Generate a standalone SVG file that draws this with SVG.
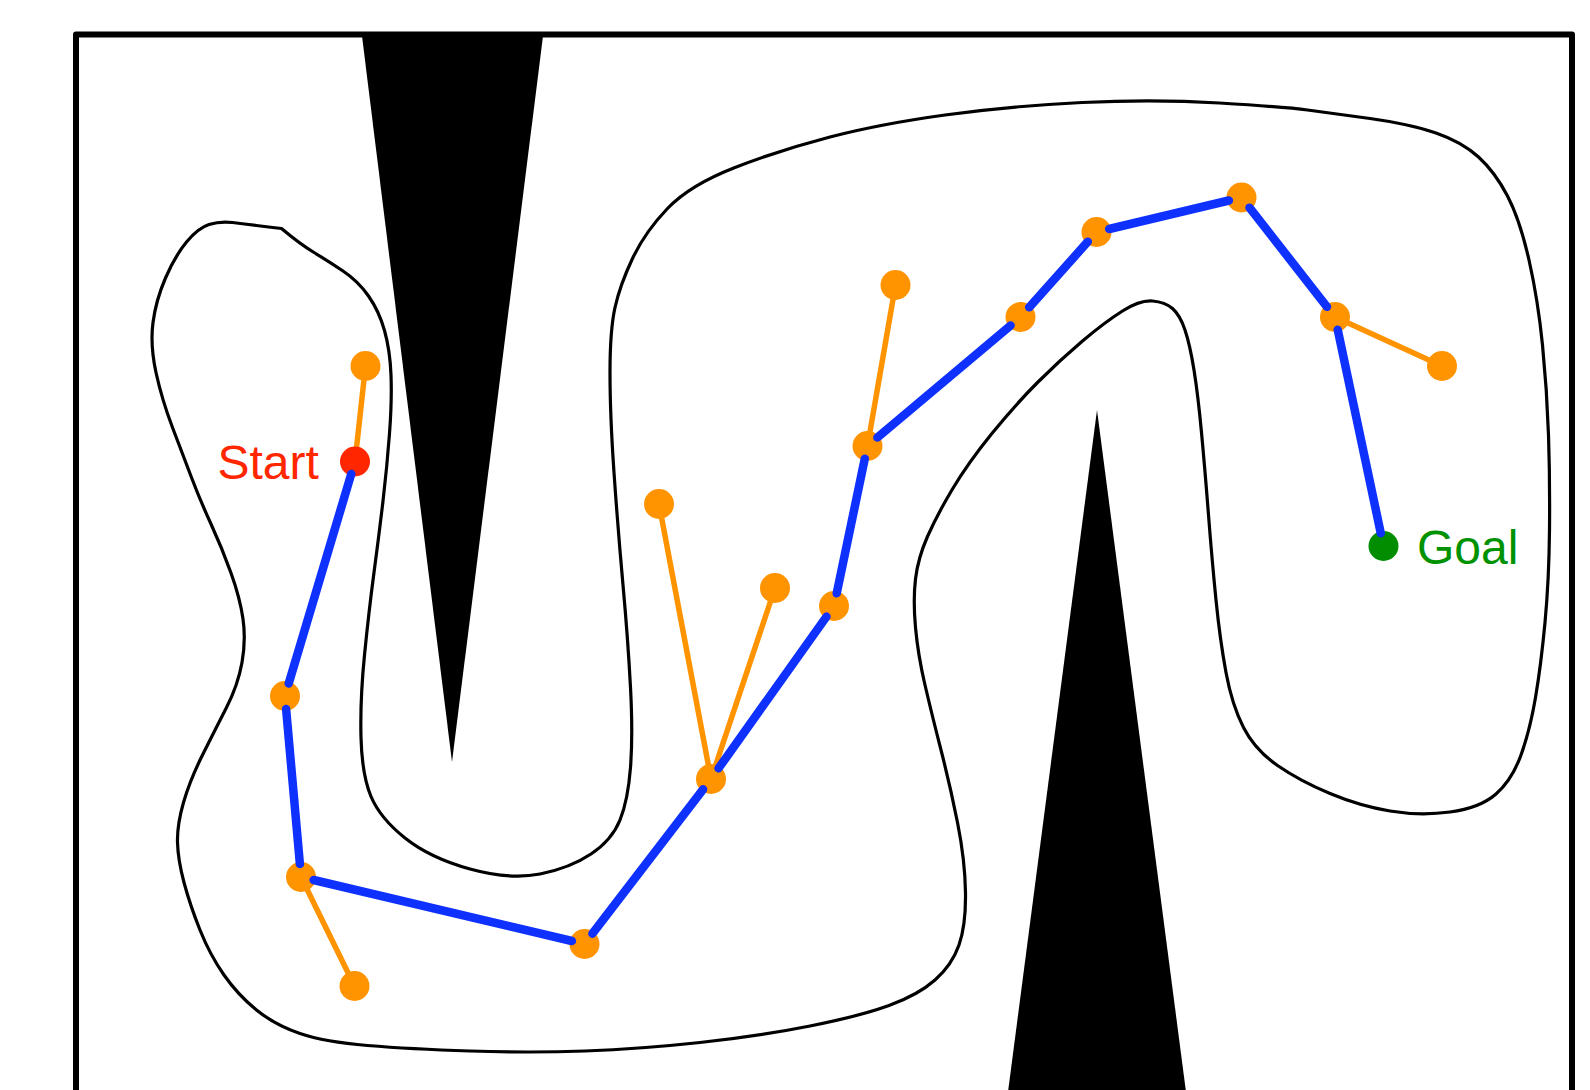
<svg xmlns="http://www.w3.org/2000/svg" width="1590" height="1090" viewBox="0 0 1590 1090">
  <style>
    .frame { fill: none; stroke: #000; stroke-width: 6; stroke-linejoin: round; }
    .obstacle { fill: #000; }
    .region { fill: none; stroke: #000; stroke-width: 3.2; stroke-linejoin: round; }
    .branch { stroke: #ff9300; stroke-width: 5.5; stroke-linecap: round; fill: none; }
    .path { stroke: #0f31ff; stroke-width: 8.5; stroke-linecap: round; fill: none; }
    .tree { fill: #ff9300; }
    .start { fill: #ff2600; }
    .goal { fill: #008e00; }
    .label { font-family: "Liberation Sans", Arial, sans-serif; font-size: 48px; }
  </style>

  <rect width="1590" height="1090" fill="#fff"/>

  <!-- workspace boundary -->
  <path class="frame" d="M76,1095 V34.5 H1572 V1095"/>

  <!-- wedge obstacles -->
  <polygon id="obstacle-top" class="obstacle" points="362,36 543,36 452,762"/>
  <polygon id="obstacle-bottom" class="obstacle" points="1097,410 1186,1092 1008,1092"/>

  <!-- free-space region outline -->
  <path id="free-region" class="region" d="M281.5,228.5
    Q300,244 314,252.5 Q328,261 343,271 Q358,281 368.5,296 Q379,311 384.5,330.5
    Q390,350 391,375 Q392,400 389.5,433.5 Q387,467 383,501 Q379,535 374,572.5
    Q369,610 364.5,655 Q360,700 361,737.5 Q362,775 371,796.5 Q380,818 405,838
    Q430,858 470,869 Q510,880 540,874 Q570,868 591,854 Q612,840 620,820
    Q628,800 630.5,767.5 Q633,735 630.5,687.5 Q628,640 623,585 Q618,530 614,472.5
    Q610,415 610,372.5 Q610,330 615,307.5 Q620,285 632.5,258.5 Q645,232 667.5,208.5
    Q690,185 735,167.5 Q780,150 830,137 Q880,124 945,115 Q1010,106 1082,102.5
    Q1154,99 1219.5,103 Q1285,107 1307.5,110 Q1330,113 1370,118.5 Q1410,124 1436,133
    Q1462,142 1478.5,157 Q1495,172 1507.5,196 Q1520,220 1529,260 Q1538,300 1542.5,345
    Q1547,390 1548.5,435 Q1550,480 1549.5,530 Q1549,580 1545,622.5 Q1541,665 1535.5,697.5
    Q1530,730 1521,755 Q1512,780 1496,794 Q1480,808 1450,812 Q1420,816 1390,811
    Q1360,806 1330,793.5 Q1300,781 1277.5,765.5 Q1255,750 1243.5,727.5 Q1232,705 1226,672.5
    Q1220,640 1216,600 Q1212,560 1208.5,515 Q1205,470 1201.5,432.5 Q1198,395 1194,370
    Q1190,345 1185,330 Q1180,315 1172.5,308.5 Q1165,302 1152.5,301 Q1140,300 1122.5,311
    Q1105,322 1082.5,341 Q1060,360 1037.5,382.5 Q1015,405 991.5,434 Q968,463 952.5,489
    Q937,515 927.5,536.5 Q918,558 915.5,579 Q913,600 915.5,627.5 Q918,655 925,685
    Q932,715 941,750 Q950,785 957.5,822.5 Q965,860 965.5,892.5 Q966,925 959,945
    Q952,965 935,980 Q918,995 889,1005.5 Q860,1016 810,1026 Q760,1036 700,1042.5
    Q640,1049 585,1051 Q530,1053 470,1051 Q410,1049 367.5,1045.5 Q325,1042 300,1033.5
    Q275,1025 256.5,1010 Q238,995 224,975 Q210,955 200,930 Q190,905 184,882.5
    Q178,860 177.5,842.5 Q177,825 183.5,802.5 Q190,780 202.5,755 Q215,730 226.5,707.5
    Q238,685 242,662.5 Q246,640 243,619 Q240,598 231,573 Q222,548 211,524
    Q200,500 191.5,477.5 Q183,455 172.5,427.5 Q162,400 156,372.5 Q150,345 153,322.5
    Q156,300 165.5,278 Q175,256 186.5,242 Q198,228 209,224.5 Q220,221 232.5,222.5
    Q245,224 256.5,225.5 Q268,227 281.5,228.5 Z"/>

  <!-- tree branches not on the solution path -->
  <g id="branches">
    <line class="branch" x1="355" y1="461.5" x2="365.5" y2="366"/>
    <line class="branch" x1="301" y1="877" x2="354.5" y2="986"/>
    <line class="branch" x1="711" y1="779" x2="659" y2="504"/>
    <line class="branch" x1="711" y1="779" x2="775" y2="588"/>
    <line class="branch" x1="867.5" y1="446" x2="895.5" y2="285"/>
    <line class="branch" x1="1335" y1="317" x2="1442" y2="366"/>
  </g>

  <!-- tree vertices -->
  <g id="node-start"><circle class="start" cx="355" cy="461.5" r="15"/><text class="label" x="217.5" y="478.5" fill="#ff2600">Start</text></g>
  <g id="node-l1"><circle class="tree" cx="365.5" cy="366" r="15"/></g>
  <g id="node-a"><circle class="tree" cx="285" cy="696" r="15"/></g>
  <g id="node-b"><circle class="tree" cx="301" cy="877" r="15"/></g>
  <g id="node-l2"><circle class="tree" cx="354.5" cy="986" r="15"/></g>
  <g id="node-c"><circle class="tree" cx="584.5" cy="944" r="15"/></g>
  <g id="node-d"><circle class="tree" cx="711" cy="779" r="15"/></g>
  <g id="node-l3"><circle class="tree" cx="659" cy="504" r="15"/></g>
  <g id="node-l4"><circle class="tree" cx="775" cy="588" r="15"/></g>
  <g id="node-e"><circle class="tree" cx="834" cy="606" r="15"/></g>
  <g id="node-f"><circle class="tree" cx="867.5" cy="446" r="15"/></g>
  <g id="node-l5"><circle class="tree" cx="895.5" cy="285" r="15"/></g>
  <g id="node-g"><circle class="tree" cx="1020.5" cy="317" r="15"/></g>
  <g id="node-h"><circle class="tree" cx="1096.5" cy="232" r="15"/></g>
  <g id="node-i"><circle class="tree" cx="1241.5" cy="197.5" r="15"/></g>
  <g id="node-j"><circle class="tree" cx="1335" cy="317" r="15"/></g>
  <g id="node-l6"><circle class="tree" cx="1442" cy="366" r="15"/></g>
  <g id="node-goal"><circle class="goal" cx="1383.5" cy="546" r="15"/><text class="label" x="1417" y="563.5" fill="#009200">Goal</text></g>

  <!-- solution path from start to goal -->
  <g id="solution-path">
    <line class="path" x1="351.3" y1="473.9" x2="288.7" y2="683.5"/>
    <line class="path" x1="286.1" y1="708.9" x2="299.9" y2="864.1"/>
    <line class="path" x1="313.6" y1="880" x2="571.9" y2="941"/>
    <line class="path" x1="592.4" y1="933.7" x2="703.1" y2="789.3"/>
    <line class="path" x1="718.5" y1="768.4" x2="826.5" y2="616.6"/>
    <line class="path" x1="836.7" y1="593.3" x2="864.8" y2="458.7"/>
    <line class="path" x1="877.4" y1="437.6" x2="1010.6" y2="325.4"/>
    <line class="path" x1="1029.2" y1="307.3" x2="1087.8" y2="241.7"/>
    <line class="path" x1="1109.2" y1="229" x2="1228.9" y2="200.5"/>
    <line class="path" x1="1249.5" y1="207.7" x2="1327" y2="306.8"/>
    <line class="path" x1="1337.7" y1="329.7" x2="1380.8" y2="533.3"/>
  </g>
</svg>
